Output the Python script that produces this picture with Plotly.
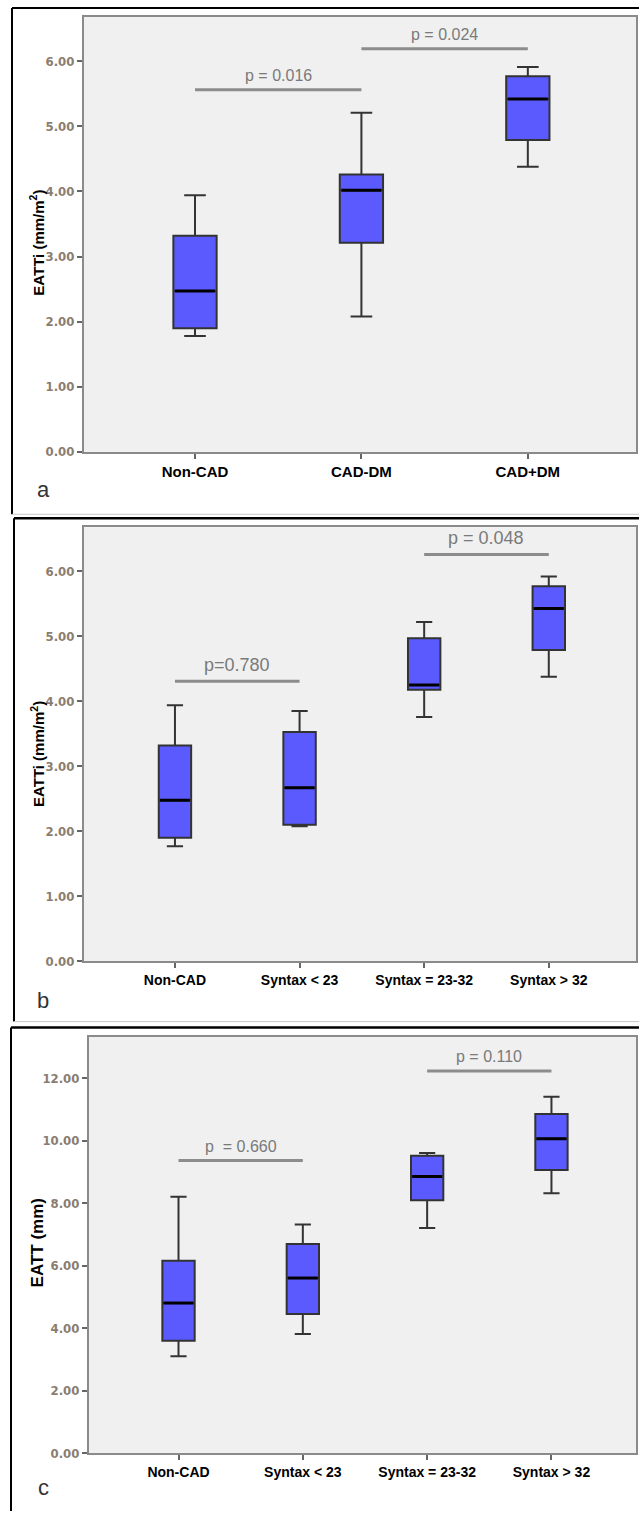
import plotly.graph_objects as go

W, H = 639, 1519

# ---------------- data ----------------
cats_a = ["Non-CAD", "CAD-DM", "CAD+DM"]
a_min = [1.78, 2.08, 4.38]
a_q1 = [1.90, 3.21, 4.79]
a_med = [2.47, 4.02, 5.42]
a_q3 = [3.32, 4.26, 5.77]
a_max = [3.94, 5.21, 5.91]

cats_bc = ["Non-CAD", "Syntax < 23", "Syntax = 23-32", "Syntax > 32"]
b_min = [1.77, 2.08, 3.76, 4.38]
b_q1 = [1.90, 2.10, 4.18, 4.79]
b_med = [2.48, 2.67, 4.25, 5.43]
b_q3 = [3.32, 3.53, 4.97, 5.77]
b_max = [3.94, 3.85, 5.22, 5.92]

c_min = [3.10, 3.81, 7.20, 8.31]
c_q1 = [3.59, 4.45, 8.09, 9.06]
c_med = [4.80, 5.60, 8.85, 10.06]
c_q3 = [6.15, 6.69, 9.51, 10.85]
c_max = [8.20, 7.31, 9.60, 11.40]

p_a_text = ["p = 0.016", "p = 0.024"]
p_a_from = [0, 1]
p_a_to = [1, 2]
p_a_y = [5.56, 6.19]

p_b_text = ["p=0.780", "p = 0.048"]
p_b_from = [0, 2]
p_b_to = [1, 3]
p_b_y = [4.31, 6.26]

p_c_text = ["p  = 0.660", "p = 0.110"]
p_c_from = [0, 2]
p_c_to = [1, 3]
p_c_y = [9.36, 12.23]

# ---------------- layout helpers ----------------
def px_x(v):
    return v / W

def px_y(v):
    return 1 - v / H

BOX_FILL = "#5a5aff"
BOX_W = 0.26

fig = go.Figure()

panels = [
    dict(ax="", cats=cats_a, mn=a_min, q1=a_q1, md=a_med, q3=a_q3, mx=a_max,
         pt=p_a_text, pf=p_a_from, pto=p_a_to, py=p_a_y,
         xdom=(84, 636), ydom=(17, 454.3), xr=[-0.667, 2.65], yr=[0, 6.68],
         dtick=1, ytitle="EATTi (mm/m<sup>2</sup>)", ytitle_y=244, ytitle_size=15,
         xfs=15, pfs=[16, 16], letter="a", letter_y=492),
    dict(ax="2", cats=cats_bc, mn=b_min, q1=b_q1, md=b_med, q3=b_q3, mx=b_max,
         pt=p_b_text, pf=p_b_from, pto=p_b_to, py=p_b_y,
         xdom=(84, 636), ydom=(530, 966.4), xr=[-0.73, 3.70], yr=[0, 6.68],
         dtick=1, ytitle="EATTi (mm/m<sup>2</sup>)", ytitle_y=758, ytitle_size=15,
         xfs=14, pfs=[18, 18], letter="b", letter_y=1006),
    dict(ax="3", cats=cats_bc, mn=c_min, q1=c_q1, md=c_med, q3=c_q3, mx=c_max,
         pt=p_c_text, pf=p_c_from, pto=p_c_to, py=p_c_y,
         xdom=(89, 636), ydom=(1042, 1460.7), xr=[-0.72, 3.68], yr=[0, 13.33],
         dtick=2, ytitle="EATT (mm)", ytitle_y=1250, ytitle_size=17,
         xfs=14, pfs=[16, 16], letter="c", letter_y=1495),
]

shapes = []
annotations = []

for p in panels:
    xa = "x" + p["ax"]
    ya = "y" + p["ax"]
    n = len(p["cats"])
    xs = list(range(n))
    fig.add_trace(go.Box(
        x=xs, q1=p["q1"], median=p["md"], q3=p["q3"],
        lowerfence=p["mn"], upperfence=p["mx"],
        width=BOX_W, whiskerwidth=0.5,
        fillcolor=BOX_FILL, line=dict(color="#333333", width=2),
        boxpoints=False, hoverinfo="skip", showlegend=False,
        xaxis=xa, yaxis=ya,
    ))
    # thick black medians
    mx_, my_ = [], []
    for i, m in enumerate(p["md"]):
        mx_ += [i - BOX_W / 2 + 0.01, i + BOX_W / 2 - 0.01, None]
        my_ += [m, m, None]
    fig.add_trace(go.Scatter(x=mx_, y=my_, mode="lines",
                             line=dict(color="#000000", width=3),
                             hoverinfo="skip", showlegend=False,
                             xaxis=xa, yaxis=ya))
    # p-value bars
    for t, f, to, yv, fs in zip(p["pt"], p["pf"], p["pto"], p["py"], p["pfs"]):
        shapes.append(dict(type="line", xref=xa, yref=ya, x0=f, x1=to, y0=yv, y1=yv,
                           line=dict(color="#8c8c8c", width=3)))
        annotations.append(dict(xref=xa, yref=ya, x=(f + to) / 2, y=yv, text=t,
                                showarrow=False, yanchor="bottom", yshift=4,
                                font=dict(family="Liberation Sans, Arial, sans-serif",
                                          size=fs, color="#7a7a7a")))
    # axis title
    annotations.append(dict(xref="paper", yref="paper", x=px_x(37), y=px_y(p["ytitle_y"]),
                            text="<b>" + p["ytitle"] + "</b>", textangle=-90,
                            showarrow=False, xanchor="center", yanchor="middle",
                            font=dict(family="Liberation Sans, Arial, sans-serif",
                                      size=p["ytitle_size"], color="#000")))
    # panel letter
    annotations.append(dict(xref="paper", yref="paper", x=px_x(43), y=px_y(p["letter_y"]),
                            text=p["letter"], showarrow=False,
                            xanchor="center", yanchor="middle",
                            font=dict(family="Liberation Sans, Arial, sans-serif",
                                      size=22, color="#333")))
    xkey = "xaxis" + p["ax"]
    ykey = "yaxis" + p["ax"]
    fig.update_layout(**{
        xkey: dict(domain=[px_x(p["xdom"][0]), px_x(p["xdom"][1])], anchor=ya,
                   range=p["xr"], tickmode="array", tickvals=xs, ticktext=p["cats"],
                   showgrid=False, zeroline=False, showline=True, mirror=True,
                   linecolor="#8a8a8a", linewidth=2, ticks="outside", ticklen=5,
                   tickwidth=2, tickcolor="#666",
                   tickfont=dict(family="Liberation Sans, Arial, sans-serif",
                                 size=p["xfs"], color="#000", weight="bold"),
                   fixedrange=True),
        ykey: dict(domain=[px_y(p["ydom"][1]), px_y(p["ydom"][0])], anchor=xa,
                   range=p["yr"], dtick=p["dtick"], tick0=0, tickformat=".2f",
                   showgrid=False, zeroline=False, showline=True, mirror=True,
                   linecolor="#8a8a8a", linewidth=2, ticks="outside", ticklen=5,
                   tickwidth=2, tickcolor="#666",
                   tickfont=dict(family="Liberation Sans Narrow, DejaVu Sans Condensed, sans-serif",
                                 size=13, color="#8a7d70", weight="bold"),
                   fixedrange=True),
    })

# panel frames
frame_lines = [
    # panel a
    (12, 8, 639, 8, "#000", 2), (12, 8, 12, 517, "#000", 2), (12, 517, 639, 517, "#c8c8c8", 1),
    # panel b
    (14, 521, 639, 521, "#000", 2.5), (14, 521, 14, 1027, "#000", 2), (14, 1027, 639, 1027, "#c8c8c8", 1),
    # panel c
    (11, 1033, 639, 1033, "#000", 2.5), (11, 1033, 11, 1519, "#000", 2),
]
for x0, y0, x1, y1, c, w in frame_lines:
    shapes.append(dict(type="line", xref="paper", yref="paper",
                       x0=px_x(x0), y0=px_y(y0), x1=px_x(x1), y1=px_y(y1),
                       line=dict(color=c, width=w), layer="above"))

fig.update_layout(
    width=W, height=H, margin=dict(l=0, r=0, t=0, b=0),
    paper_bgcolor="#ffffff", plot_bgcolor="#f0f0f0",
    shapes=shapes, annotations=annotations, showlegend=False,
)

fig.write_html("out.html")
